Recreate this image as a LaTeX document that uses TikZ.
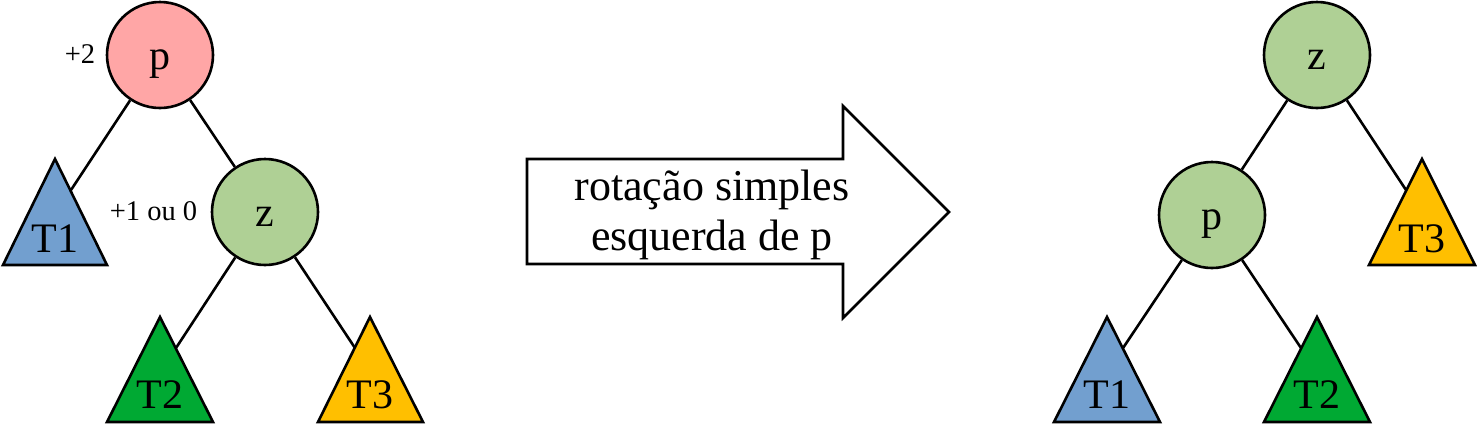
\documentclass[tikz,border=0pt]{standalone}
\usepackage{fontspec}
\setmainfont{Liberation Serif}
\definecolor{cpink}{HTML}{FFA6A6}
\definecolor{cgreenl}{HTML}{AFD095}
\definecolor{cblue}{HTML}{729FCF}
\definecolor{cgreen}{HTML}{00A933}
\definecolor{cgold}{HTML}{FFBF00}
\tikzset{
  ln/.style={line width=2.6pt, line join=miter},
  circ/.style={ln, draw, circle, minimum size=106pt, inner sep=0pt},
  big/.style={font=\fontsize{42}{50}\selectfont, anchor=base, inner sep=0pt},
  small/.style={font=\fontsize{28.5}{34}\selectfont, anchor=base, inner sep=0pt},
  tri/.style={ln, draw},
}
\begin{document}
\begin{tikzpicture}[x=1pt,y=-1pt]
\useasboundingbox (0,0) rectangle (1477,424);
% ---------- left tree ----------
\node[circ, fill=cpink] (Lp) at (160,55) {};
\node[big] (Lptxt) at (160,69) {p};
\node[circ, fill=cgreenl] (Lz) at (265,212) {};
\node[big] (Lztxt) at (265,226) {z};
\node[small] (Lbal2) at (80,63) {+2};
\node[small] (Lbal1) at (153.5,220) {+1 ou 0};
% triangles
\draw[tri, fill=cblue] (55,159) -- (107,265) -- (3,265) -- cycle;
\node[big] (LT1) at (55,252) {T1};
\draw[tri, fill=cgreen] (160,317) -- (213,422) -- (107,422) -- cycle;
\node[big] (LT2) at (160,408) {T2};
\draw[tri, fill=cgold] (370,317) -- (423,422) -- (318,422) -- cycle;
\node[big] (LT3) at (370,408) {T3};
\coordinate (LT1e) at (71,190);
\coordinate (LT2e) at (176,348);
\coordinate (LT3e) at (355,348);
\draw[ln] (Lp) -- (LT1e);
\draw[ln] (Lp) -- (Lz);
\draw[ln] (Lz) -- (LT2e);
\draw[ln] (Lz) -- (LT3e);
% ---------- arrow ----------
\draw[ln, fill=white] (527,159) -- (843,159) -- (843,106) -- (949,212) -- (843,318) -- (843,264) -- (527,264) -- cycle;
\node[big, font=\fontsize{44}{50}\selectfont] (A1) at (712,200) {rotação simples};
\node[big, font=\fontsize{44}{50}\selectfont] (A2) at (712,250) {esquerda de p};
% ---------- right tree ----------
\node[circ, fill=cgreenl] (Rz) at (1317,55) {};
\node[big] (Rztxt) at (1317,69) {z};
\node[circ, fill=cgreenl] (Rp) at (1212,215) {};
\node[big] (Rptxt) at (1212,229) {p};
\draw[tri, fill=cgold] (1422,159) -- (1475,265) -- (1369,265) -- cycle;
\node[big] (RT3) at (1422,252) {T3};
\draw[tri, fill=cblue] (1107,317) -- (1160,422) -- (1054,422) -- cycle;
\node[big] (RT1) at (1107,408) {T1};
\draw[tri, fill=cgreen] (1317,317) -- (1370,422) -- (1264,422) -- cycle;
\node[big] (RT2) at (1317,408) {T2};
\coordinate (RT3e) at (1406,190);
\coordinate (RT1e) at (1123,348);
\coordinate (RT2e) at (1301,348);
\draw[ln] (Rz) -- (Rp);
\draw[ln] (Rz) -- (RT3e);
\draw[ln] (Rp) -- (RT1e);
\draw[ln] (Rp) -- (RT2e);
\end{tikzpicture}
\end{document}
